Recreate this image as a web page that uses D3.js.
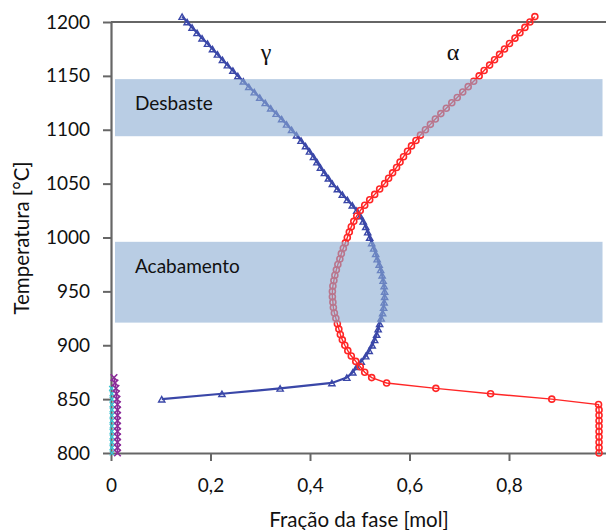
<!DOCTYPE html>
<html>
<head>
  <meta charset="utf-8">
  <script src="https://cdn.jsdelivr.net/npm/d3@7"></script>
  <style>
    body, html {
      margin: 0;
      padding: 0;
      background: white;
      overflow: hidden;
    }
    .tick text {
      font-family: Lato, sans-serif;
      font-size: 19px;
      fill: #111;
    }
    .axisTitle, .bandLabel {
      font-family: Lato, sans-serif;
      fill: #111;
    }
    .phase {
      font-family: 'Liberation Serif', serif;
      font-size: 24px;
      fill: #111;
    }
  </style>
</head>
<body>
  <svg id="chart" width="606" height="530"></svg>

  <script>
    // gamma (austenite) - temperature [°C] and phase fraction [mol]
    const gammaTemp = [1205, 1200, 1195, 1190, 1185, 1180, 1175, 1170, 1165, 1160, 1155, 1150,
      1145, 1140, 1135, 1130, 1125, 1120, 1115, 1110, 1105, 1100, 1095, 1090, 1085, 1080,
      1075, 1070, 1065, 1060, 1055, 1050, 1045, 1040, 1035, 1030, 1025, 1020, 1015, 1010,
      1005, 1000, 995, 990, 985, 980, 975, 970, 965, 960, 955, 950, 945, 940, 935, 930,
      925, 920, 915, 910, 905, 900, 895, 890, 885, 880, 875, 870, 865, 860, 855, 850];
    const gammaFrac = [0.143, 0.153, 0.163, 0.173, 0.183, 0.194, 0.204, 0.214, 0.224, 0.234, 0.245, 0.255,
      0.266, 0.277, 0.288, 0.299, 0.310, 0.321, 0.332, 0.343, 0.353, 0.363, 0.373, 0.382, 0.391, 0.399,
      0.407, 0.414, 0.421, 0.429, 0.437, 0.445, 0.455, 0.465, 0.475, 0.485, 0.494, 0.501, 0.507, 0.512,
      0.516, 0.520, 0.524, 0.528, 0.532, 0.535, 0.539, 0.542, 0.545, 0.547, 0.549, 0.550, 0.550, 0.549, 0.548, 0.546,
      0.543, 0.540, 0.537, 0.534, 0.530, 0.525, 0.519, 0.512, 0.503, 0.494, 0.486, 0.474, 0.444, 0.340, 0.223, 0.102];

    // alpha (ferrite)
    const alphaTemp = [1205, 1200, 1195, 1190, 1185, 1180, 1175, 1170, 1165, 1160, 1155, 1150,
      1145, 1140, 1135, 1130, 1125, 1120, 1115, 1110, 1105, 1100, 1095, 1090, 1085, 1080,
      1075, 1070, 1065, 1060, 1055, 1050, 1045, 1040, 1035, 1030, 1025, 1020, 1015, 1010,
      1005, 1000, 995, 990, 985, 980, 975, 970, 965, 960, 955, 950, 945, 940, 935, 930,
      925, 920, 915, 910, 905, 900, 895, 890, 885, 880, 875, 870, 865, 860, 855, 850,
      845, 840, 835, 830, 825, 820, 815, 810, 805, 800];
    const alphaFrac = [0.852, 0.842, 0.832, 0.822, 0.812, 0.801, 0.791, 0.781, 0.771, 0.761, 0.750, 0.740,
      0.729, 0.718, 0.707, 0.696, 0.685, 0.674, 0.663, 0.652, 0.642, 0.632, 0.622, 0.613, 0.604, 0.596,
      0.588, 0.581, 0.574, 0.566, 0.558, 0.550, 0.540, 0.530, 0.520, 0.510, 0.501, 0.494, 0.488, 0.483,
      0.479, 0.475, 0.471, 0.467, 0.463, 0.460, 0.456, 0.453, 0.450, 0.448, 0.446, 0.445, 0.445, 0.446, 0.447, 0.449,
      0.452, 0.455, 0.458, 0.461, 0.465, 0.470, 0.476, 0.483, 0.492, 0.501, 0.510, 0.524, 0.554, 0.653, 0.763, 0.886,
      0.980, 0.981, 0.981, 0.981, 0.981, 0.981, 0.981, 0.981, 0.981, 0.981];

    // minor phases near zero fraction
    const cemTemp = [870, 865, 860, 855, 850, 845, 840, 835, 830, 825, 820, 815, 810, 805, 800];
    const cemFrac = [0.006, 0.008, 0.010, 0.011, 0.012, 0.013, 0.013, 0.013, 0.013, 0.013, 0.013, 0.013, 0.013, 0.013, 0.013];
    const otherTemp = [860, 855, 850, 845, 840, 835, 830, 825, 820, 815, 810, 805, 800];
    const otherFrac = [0.001, 0.002, 0.002, 0.002, 0.002, 0.002, 0.002, 0.002, 0.002, 0.002, 0.002, 0.002, 0.002];

    // rolling windows
    const bandNames = ["Desbaste", "Acabamento"];
    const bandLow = [1094, 921];
    const bandHigh = [1147, 996];

    const yTicks = [800, 850, 900, 950, 1000, 1050, 1100, 1150, 1200];
    const xTicks = [0, 0.2, 0.4, 0.6, 0.8];

    const svg = d3.select('#chart');

    const x = d3.scaleLinear().domain([0, 1]).range([111, 608.5]);
    const y = d3.scaleLinear().domain([800, 1200]).range([453, 22]);

    const axisColor = "#666";

    function zip(t, f) {
      return t.map((d, i) => ({ t: d, f: f[i] }));
    }

    // axes
    const yAxis = svg.append('g')
      .attr('transform', `translate(${x(0)},0)`)
      .call(d3.axisLeft(y).tickValues(yTicks).tickSize(8).tickSizeOuter(0).tickPadding(13)
        .tickFormat(d => String(d)));

    const xAxis = svg.append('g')
      .attr('transform', `translate(0,${y(800)})`)
      .call(d3.axisBottom(x).tickValues(xTicks).tickSize(8).tickSizeOuter(0).tickPadding(18)
        .tickFormat(d => d === 0 ? "0" : d3.format(".1f")(d).replace(".", ",")));

    [yAxis, xAxis].forEach(a => {
      a.select('.domain').attr('stroke', axisColor).attr('stroke-width', 2.2);
      a.selectAll('.tick line').attr('stroke', axisColor).attr('stroke-width', 2);
      a.attr('font-family', null).attr('font-size', null);
    });

    // top frame line
    svg.append('line')
      .attr('x1', x(0)).attr('x2', 606)
      .attr('y1', y(1200)).attr('y2', y(1200))
      .attr('stroke', axisColor)
      .attr('stroke-width', 2.2);

    const line = d3.line().x(d => x(d.f)).y(d => y(d.t));

    const blue = "#3a47a8";
    const red = "#ff2626";

    const gamma = zip(gammaTemp, gammaFrac);
    const alpha = zip(alphaTemp, alphaFrac);

    // minor phases
    svg.append('g').selectAll('path')
      .data(zip(otherTemp, otherFrac))
      .join('path')
      .attr('transform', d => `translate(${x(d.f)},${y(d.t)})`)
      .attr('d', d3.symbol(d3.symbolX, 16))
      .attr('fill', 'none')
      .attr('stroke', '#35c4d4')
      .attr('stroke-width', 1.3);

    svg.append('path')
      .datum(zip(cemTemp, cemFrac))
      .attr('d', line)
      .attr('fill', 'none')
      .attr('stroke', '#8b2c99')
      .attr('stroke-width', 1.5);

    svg.append('g').selectAll('path')
      .data(zip(cemTemp, cemFrac))
      .join('path')
      .attr('transform', d => `translate(${x(d.f)},${y(d.t)})`)
      .attr('d', d3.symbol(d3.symbolX, 30))
      .attr('fill', 'none')
      .attr('stroke', '#8b2c99')
      .attr('stroke-width', 1.6);

    // gamma curve
    svg.append('path')
      .datum(gamma)
      .attr('d', line)
      .attr('fill', 'none')
      .attr('stroke', blue)
      .attr('stroke-width', 2.2);

    svg.append('g').selectAll('path')
      .data(gamma)
      .join('path')
      .attr('transform', d => `translate(${x(d.f)},${y(d.t) + 1})`)
      .attr('d', d3.symbol(d3.symbolTriangle, 17))
      .attr('fill', 'none')
      .attr('stroke', blue)
      .attr('stroke-width', 1.4);

    // alpha curve
    svg.append('path')
      .datum(alpha)
      .attr('d', line)
      .attr('fill', 'none')
      .attr('stroke', red)
      .attr('stroke-width', 1.4);

    svg.append('g').selectAll('circle')
      .data(alpha)
      .join('circle')
      .attr('cx', d => x(d.f))
      .attr('cy', d => y(d.t))
      .attr('r', 3)
      .attr('fill', 'none')
      .attr('stroke', red)
      .attr('stroke-width', 1.6);

    // processing windows, drawn over the curves
    const bands = bandNames.map((n, i) => ({ name: n, lo: bandLow[i], hi: bandHigh[i] }));

    svg.append('g').selectAll('rect')
      .data(bands)
      .join('rect')
      .attr('x', x(0.008))
      .attr('width', x(0.988) - x(0.008))
      .attr('y', d => y(d.hi))
      .attr('height', d => y(d.lo) - y(d.hi))
      .attr('fill', 'rgb(138,172,210)')
      .attr('fill-opacity', 0.6);

    svg.append('g').selectAll('text')
      .data(bands)
      .join('text')
      .attr('class', 'bandLabel')
      .attr('x', 135)
      .attr('y', d => y(d.hi) + 31)
      .attr('font-size', 19)
      .text(d => d.name);

    // phase labels
    svg.append('text').attr('class', 'phase')
      .attr('x', 266).attr('y', 60).attr('text-anchor', 'middle').text('γ');
    svg.append('text').attr('class', 'phase')
      .attr('x', 453).attr('y', 60).attr('text-anchor', 'middle').text('α');

    // axis titles
    svg.append('text')
      .attr('class', 'axisTitle')
      .attr('x', 359)
      .attr('y', 527)
      .attr('text-anchor', 'middle')
      .attr('font-size', 20.5)
      .text('Fração da fase [mol]');

    svg.append('text')
      .attr('class', 'axisTitle')
      .attr('transform', `translate(29,238) rotate(-90)`)
      .attr('text-anchor', 'middle')
      .attr('font-size', 20.5)
      .text('Temperatura [°C]');
  </script>
</body>
</html>
